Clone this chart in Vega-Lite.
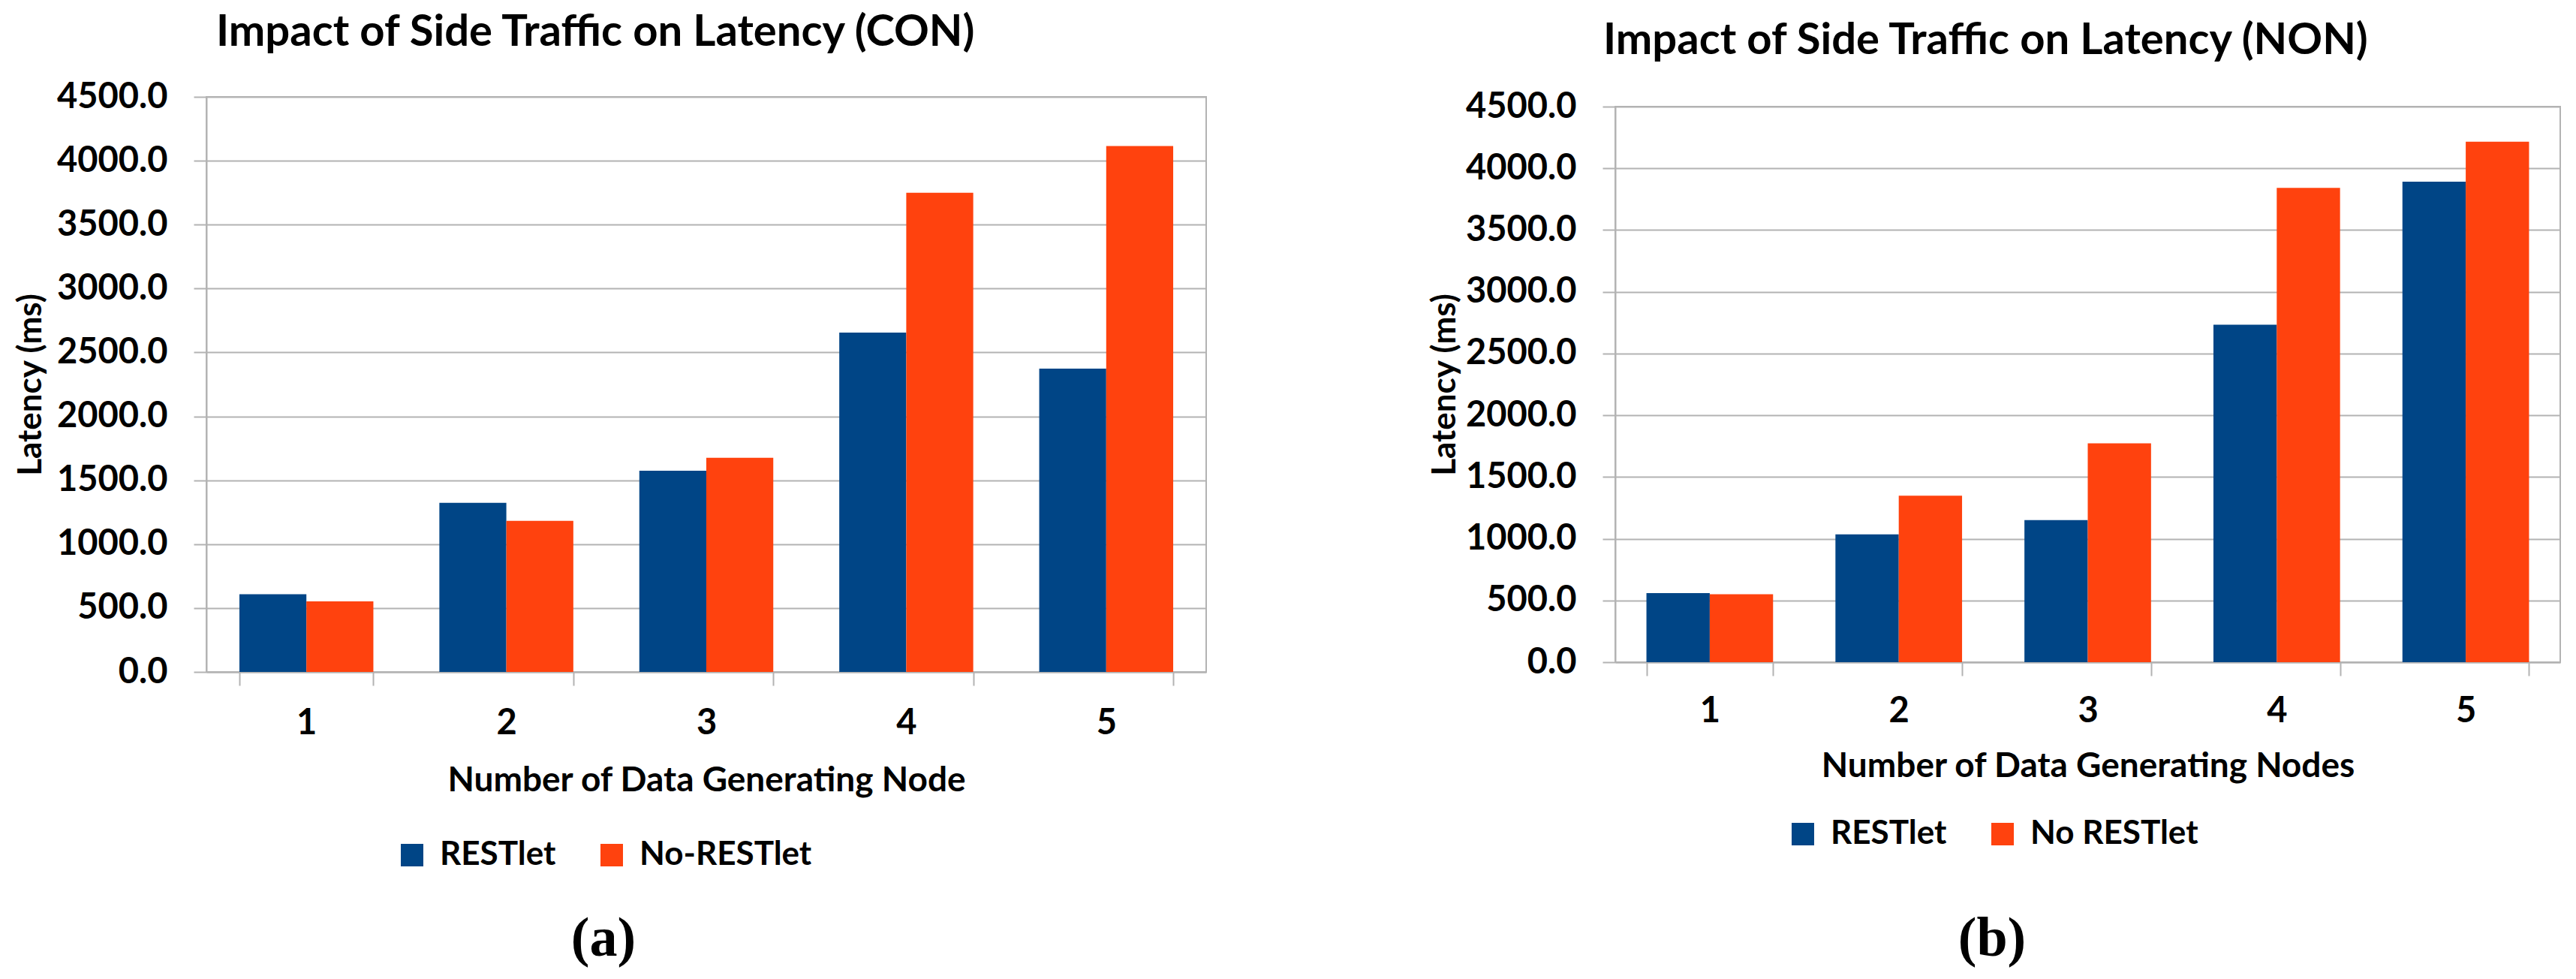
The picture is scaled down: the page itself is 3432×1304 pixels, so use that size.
{
  "$schema": "https://vega.github.io/schema/vega-lite/v6.json",
  "background": "white",
  "padding": {"left": 18, "top": 14, "right": 0, "bottom": 0},
  "config": {
    "font": "Lato",
    "view": {"stroke": "#b3b3b3", "strokeWidth": 2},
    "axis": {
      "labelFont": "Lato", "labelFontWeight": "bold", "labelColor": "black", "labelFontSize": 47,
      "titleFont": "Lato", "titleFontWeight": "bold", "titleColor": "black", "titleFontSize": 46,
      "domainColor": "#b3b3b3", "domainWidth": 2,
      "tickColor": "#b3b3b3", "tickWidth": 2,
      "gridColor": "#b3b3b3", "gridWidth": 2
    },
    "title": {"font": "Lato", "fontWeight": "bold", "fontSize": 58, "color": "black", "anchor": "start", "frame": "group", "baseline": "alphabetic"},
    "legend": {
      "orient": "none", "direction": "horizontal", "padding": 0,
      "symbolType": "square", "symbolSize": 900, "symbolStrokeWidth": 0, "symbolOpacity": 1,
      "labelFont": "Lato", "labelFontWeight": "bold", "labelFontSize": 44, "labelColor": "black",
      "labelOffset": 15, "columnPadding": 52, "labelLimit": 0,
      "titleOrient": "bottom", "titleAnchor": "middle", "titleFont": "Liberation Serif",
      "titleFontSize": 74, "titleFontWeight": "bold", "titleColor": "black"
    }
  },
  "datasets": {
    "latency": [
      {"panel": "CON", "node": "1", "series": "RESTlet", "latency": 608},
      {"panel": "CON", "node": "1", "series": "No-RESTlet", "latency": 552},
      {"panel": "CON", "node": "2", "series": "RESTlet", "latency": 1324},
      {"panel": "CON", "node": "2", "series": "No-RESTlet", "latency": 1183},
      {"panel": "CON", "node": "3", "series": "RESTlet", "latency": 1574},
      {"panel": "CON", "node": "3", "series": "No-RESTlet", "latency": 1676},
      {"panel": "CON", "node": "4", "series": "RESTlet", "latency": 2656},
      {"panel": "CON", "node": "4", "series": "No-RESTlet", "latency": 3750},
      {"panel": "CON", "node": "5", "series": "RESTlet", "latency": 2374},
      {"panel": "CON", "node": "5", "series": "No-RESTlet", "latency": 4115},
      {"panel": "NON", "node": "1", "series": "RESTlet", "latency": 560},
      {"panel": "NON", "node": "1", "series": "No RESTlet", "latency": 550},
      {"panel": "NON", "node": "2", "series": "RESTlet", "latency": 1035},
      {"panel": "NON", "node": "2", "series": "No RESTlet", "latency": 1349},
      {"panel": "NON", "node": "3", "series": "RESTlet", "latency": 1151},
      {"panel": "NON", "node": "3", "series": "No RESTlet", "latency": 1773},
      {"panel": "NON", "node": "4", "series": "RESTlet", "latency": 2734},
      {"panel": "NON", "node": "4", "series": "No RESTlet", "latency": 3841},
      {"panel": "NON", "node": "5", "series": "RESTlet", "latency": 3892},
      {"panel": "NON", "node": "5", "series": "No RESTlet", "latency": 4215}
    ]
  },
  "bounds": "flush",
  "center": true,
  "spacing": 545,
  "resolve": {
    "scale": {"x": "independent", "y": "independent", "color": "independent", "xOffset": "independent"},
    "legend": {"color": "independent"}
  },
  "hconcat": [
    {
      "width": 1332,
      "height": 766,
      "data": {"name": "latency"},
      "transform": [{"filter": "datum.panel === 'CON'"}],
      "title": {"text": "Impact of Side Traffic on Latency (CON)", "dx": 13, "offset": 32},
      "mark": {"type": "bar"},
      "encoding": {
        "x": {
          "field": "node", "type": "nominal",
          "scale": {"paddingInner": 0.33, "paddingOuter": 0.165},
          "axis": {
            "title": "Number of Data Generating Node", "labelAngle": 0, "grid": false,
            "tickBand": "extent", "tickSize": 18, "labelPadding": 27,
            "titleBaseline": "alphabetic", "titleX": 666, "titleY": 158
          }
        },
        "xOffset": {"field": "series", "type": "nominal", "sort": ["RESTlet", "No-RESTlet"]},
        "y": {
          "field": "latency", "type": "quantitative",
          "scale": {"domain": [0, 4500], "nice": false},
          "axis": {
            "title": "Latency (ms)", "format": ".1f", "titleFontSize": 44,
            "values": [0, 500, 1000, 1500, 2000, 2500, 3000, 3500, 4000, 4500],
            "tickSize": 17, "labelPadding": 35,
            "titleAngle": -90, "titleBaseline": "middle", "titleX": -234, "titleY": 383
          }
        },
        "color": {
          "field": "series", "type": "nominal",
          "scale": {"domain": ["RESTlet", "No-RESTlet"], "range": ["#004586", "#ff420e"]},
          "legend": {"title": "(a)", "legendX": 252, "legendY": 988, "titlePadding": 54}
        }
      }
    },
    {
      "width": 1259,
      "height": 740,
      "data": {"name": "latency"},
      "transform": [{"filter": "datum.panel === 'NON'"}],
      "title": {"text": "Impact of Side Traffic on Latency (NON)", "dx": -16, "offset": 34},
      "mark": {"type": "bar"},
      "encoding": {
        "x": {
          "field": "node", "type": "nominal",
          "scale": {"paddingInner": 0.33, "paddingOuter": 0.165},
          "axis": {
            "title": "Number of Data Generating Nodes", "labelAngle": 0, "grid": false,
            "tickBand": "extent", "tickSize": 18, "labelPadding": 24,
            "titleBaseline": "alphabetic", "titleX": 629.5, "titleY": 152
          }
        },
        "xOffset": {"field": "series", "type": "nominal", "sort": ["RESTlet", "No RESTlet"]},
        "y": {
          "field": "latency", "type": "quantitative",
          "scale": {"domain": [0, 4500], "nice": false},
          "axis": {
            "title": "Latency (ms)", "format": ".1f", "titleFontSize": 44,
            "values": [0, 500, 1000, 1500, 2000, 2500, 3000, 3500, 4000, 4500],
            "tickSize": 17, "labelPadding": 35,
            "titleAngle": -90, "titleBaseline": "middle", "titleX": -227, "titleY": 370
          }
        },
        "color": {
          "field": "series", "type": "nominal",
          "scale": {"domain": ["RESTlet", "No RESTlet"], "range": ["#004586", "#ff420e"]},
          "legend": {"title": "(b)", "legendX": 228, "legendY": 947, "titlePadding": 82}
        }
      }
    }
  ]
}
